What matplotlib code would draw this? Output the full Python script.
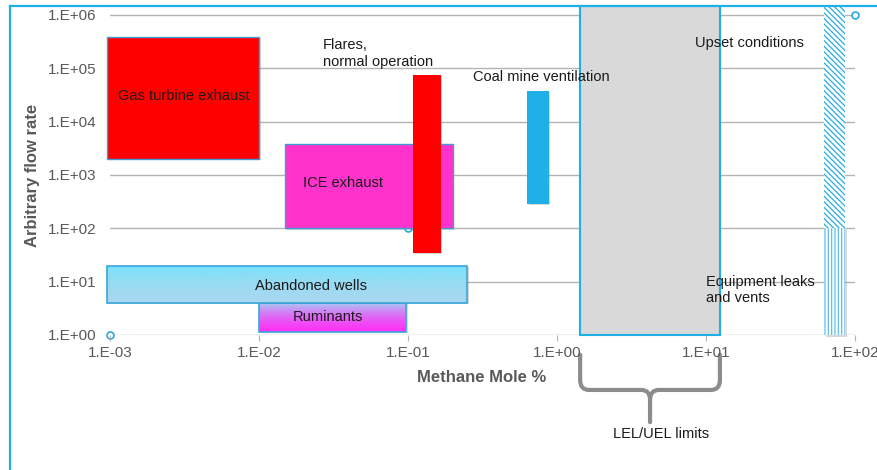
import numpy as np
import matplotlib
matplotlib.use("Agg")
import matplotlib.pyplot as plt
import matplotlib.patches as mpatches
from matplotlib.colors import LinearSegmentedColormap
from matplotlib.path import Path
from matplotlib.lines import Line2D
from matplotlib.ticker import FixedLocator, FuncFormatter
from matplotlib.transforms import blended_transform_factory, ScaledTranslation

plt.rcParams['font.family'] = ['Liberation Sans', 'DejaVu Sans']
plt.rcParams['hatch.linewidth'] = 0.9

# methane sources: mole % range (x) and flow rate range (y)
sources = ["Gas turbine exhaust", "ICE exhaust", "Flares", "Coal mine ventilation"]
src_x_lo = [0.00096, 0.015, 0.108, 0.63]
src_x_hi = [0.0100, 0.20, 0.166, 0.88]
src_y_lo = [2000, 100, 35, 290]
src_y_hi = [3.9e5, 3800, 7.5e4, 3.8e4]
src_colors = ["#ff0000", "#ff33cc", "#ff0000", "#1eb0e6"]
src_edges = ["#3d9cd4", "#3d9cd4", "none", "none"]

# gradient filled sources
grad_sources = ["Abandoned wells", "Ruminants"]
grad_x_lo = [0.00096, 0.0100]
grad_x_hi = [0.25, 0.097]
grad_y_lo = [4.0, 1.14]
grad_y_hi = [20, 4.0]
grad_top = ["#74e3fc", "#a6cff5"]
grad_bot = ["#a8d8f0", "#ff30f5"]

# flammability limits
lel, uel = 1.43, 12.4
y_top = 1.47e6

# upset / leaks column
leak_x_lo, leak_x_hi = 62, 85.7
leak_split = 100

# hollow marker series
pts_x = [1e-3, 0.1, 1e2]
pts_y = [1.0, 100, 1e6]

# label positions
labels = ["Gas turbine exhaust", "ICE exhaust", "Abandoned wells", "Ruminants",
          "Flares,\nnormal operation", "Coal mine ventilation", "Upset conditions",
          "Equipment leaks\nand vents"]
lab_x = [0.00314, 0.0366, 0.0223, 0.029, 0.0269, 0.273, 8.43, 10.0]
lab_y = [3.0e4, 708, 8.3, 2.18, 1.9e5, 6.9e4, 3.0e5, 7.0]
lab_ha = ["center", "center", "center", "center", "left", "left", "left", "left"]

decades_x = [1e-3, 1e-2, 1e-1, 1e0, 1e1, 1e2]
decades_y = [1e0, 1e1, 1e2, 1e3, 1e4, 1e5, 1e6]

fig = plt.figure(figsize=(8.78, 4.70), dpi=100)
ax = fig.add_axes([110 / 878, 1 - 335 / 470, 745 / 878, 329 / 470])
ax.set_xscale("log")
ax.set_yscale("log")

grid_c = "#b4b4b4"
for yv in decades_y:
    ax.axhline(yv, color=grid_c, lw=1, zorder=0)

ax.plot(pts_x, pts_y, "o", ms=5, mfc="white", mec="#29a8e0", mew=1.2,
        clip_on=False, zorder=1)

shadow_tr = ax.transData + ScaledTranslation(1.5 / 100, -1.5 / 100, fig.dpi_scale_trans)


def rect(x0, x1, y0, y1, z, shadow=True, **kw):
    if shadow:
        ax.add_patch(mpatches.Rectangle((x0, y0), x1 - x0, y1 - y0, facecolor="#808080",
                                        alpha=0.3, lw=0, zorder=z - 0.1,
                                        transform=shadow_tr, clip_on=False))
    p = mpatches.Rectangle((x0, y0), x1 - x0, y1 - y0, zorder=z, clip_on=False, **kw)
    ax.add_patch(p)
    return p


for i in range(len(sources)):
    rect(src_x_lo[i], src_x_hi[i], src_y_lo[i], src_y_hi[i], 3,
         facecolor=src_colors[i], edgecolor=src_edges[i], lw=1)

for i in range(len(grad_sources)):
    cmap = LinearSegmentedColormap.from_list(grad_sources[i], [grad_bot[i], grad_top[i]])
    r = rect(grad_x_lo[i], grad_x_hi[i], grad_y_lo[i], grad_y_hi[i], 5 - i,
             facecolor="none", edgecolor="#3aa6da", lw=1.2)
    im = ax.imshow(np.linspace(0, 1, 100).reshape(-1, 1), cmap=cmap, aspect="auto",
                   origin="lower", interpolation="bicubic",
                   extent=[grad_x_lo[i], grad_x_hi[i], grad_y_lo[i], grad_y_hi[i]],
                   zorder=4.95 - i)
    im.set_clip_path(r)

rect(lel, uel, 1.0, y_top, 2, shadow=False, facecolor="#d9d9d9",
     edgecolor="#1eb0e6", lw=1.5)
rect(leak_x_lo, leak_x_hi, leak_split, y_top, 2, shadow=False, facecolor="white",
     edgecolor="#29abe2", hatch="\\\\\\\\\\\\", lw=0)
rect(leak_x_lo, leak_x_hi, 1.0, leak_split, 2, facecolor="white",
     edgecolor="#5bc0eb", hatch="|||||", lw=0)

for i in range(len(labels)):
    ax.text(lab_x[i], lab_y[i], labels[i], ha=lab_ha[i], va="center", fontsize=10.5,
            color="#1a1a1a", zorder=8, linespacing=1.25)

ax.set_xlim(decades_x[0], decades_x[-1])
ax.set_ylim(decades_y[0], y_top)
for s in ax.spines.values():
    s.set_visible(False)

fmt = FuncFormatter(lambda v, p: "1.E{:+03d}".format(int(round(np.log10(v)))))
ax.xaxis.set_major_locator(FixedLocator(decades_x))
ax.yaxis.set_major_locator(FixedLocator(decades_y))
ax.xaxis.set_major_formatter(fmt)
ax.yaxis.set_major_formatter(fmt)
ax.xaxis.set_minor_locator(FixedLocator([]))
ax.yaxis.set_minor_locator(FixedLocator([]))
ax.tick_params(axis="x", length=4, color=grid_c, pad=4, labelsize=11, labelcolor="#595959")
ax.tick_params(axis="y", length=0, pad=10, labelsize=11, labelcolor="#595959")

fig.text(33 / 878, 1 - 175 / 470, "Arbitrary flow rate", rotation=90, ha="center",
         va="center", fontsize=12, fontweight="bold", color="#595959")
fig.text(482 / 878, 1 - 378 / 470, "Methane Mole %", ha="center", va="center",
         fontsize=12, fontweight="bold", color="#595959")

# curly brace under the LEL/UEL range
tr = blended_transform_factory(ax.transData, ax.transAxes)
lx, rx = np.log10(lel), np.log10(uel)
mx = (lx + rx) / 2
dx = 0.06
y0, y1, y2, r = -0.06, -0.167, -0.265, 0.03
verts = [(lx, y0), (lx, y1 + r), (lx, y1), (lx + dx, y1), (mx - dx, y1), (mx, y1),
         (mx, y1 - r), (mx, y2),
         (mx, y1 - r), (mx, y1), (mx + dx, y1), (rx - dx, y1), (rx, y1), (rx, y1 + r),
         (rx, y0)]
codes = [Path.MOVETO, Path.LINETO, Path.CURVE3, Path.CURVE3, Path.LINETO, Path.CURVE3,
         Path.CURVE3, Path.LINETO,
         Path.MOVETO, Path.CURVE3, Path.CURVE3, Path.LINETO, Path.CURVE3, Path.CURVE3,
         Path.LINETO]
verts = [(10 ** vx, vy) for vx, vy in verts]
ax.add_patch(mpatches.PathPatch(Path(verts, codes), transform=tr, facecolor="none",
                                edgecolor="#8c8c8c", lw=3, capstyle="round",
                                joinstyle="round", clip_on=False))
ax.text(5.0, -0.301, "LEL/UEL limits", transform=tr, ha="center", va="center",
        fontsize=10.5, color="#1a1a1a")

# outer frame lines
fig.add_artist(Line2D([10 / 878, 1], [1 - 6 / 470] * 2, color="#1eb0e6", lw=1.6))
fig.add_artist(Line2D([10 / 878] * 2, [0, 1 - 6 / 470], color="#1eb0e6", lw=1.6))

fig.savefig("out.png", dpi=100)
